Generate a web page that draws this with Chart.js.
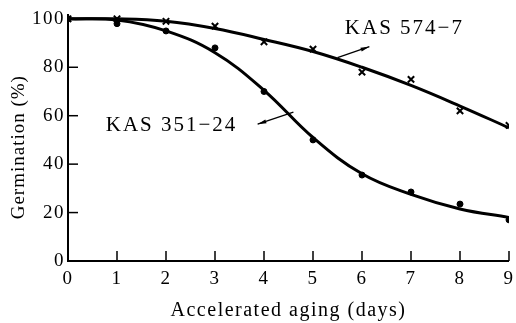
<!DOCTYPE html>
<html>
<head>
<meta charset="utf-8">
<script src="https://cdn.jsdelivr.net/npm/chart.js@4/dist/chart.umd.min.js"></script>
<style>
  html, body { margin: 0; padding: 0; background: #fff; }
  #wrap { width: 516px; height: 323px; }
</style>
</head>
<body>
<div id="wrap"><canvas id="agingChart" width="516" height="323"></canvas></div>
<script>
// values
const days = [0, 1, 2, 3, 4, 5, 6, 7, 8, 9];
const kas574Obs = [100, 100, 99, 97, 90.5, 87.5, 78, 75, 62, 56];
const kas574Fit = [100, 100, 99, 96, 91.5, 86.5, 80, 72.5, 64, 55];
const kas351Obs = [100, 98, 95, 88, 70, 50, 35.5, 28.5, 23.5, 17];
const kas351Fit = [100, 99.5, 95, 86, 70.5, 51, 36, 27.5, 21.5, 18];
const yTicks = [0, 20, 40, 60, 80, 100];

const serif = '"Liberation Serif", "Times New Roman", "DejaVu Serif", serif';

function pts(arr) {
    return days.map((d, i) => ({ x: d, y: arr[i] }));
}

// inner tick marks, arrows, curve labels and the y title
const decor = {
    id: 'decor',
    beforeDraw(chart) {
        chart.ctx.letterSpacing = '1.5px';
    },
    afterDraw(chart) {
        const ctx = chart.ctx;
        const xs = chart.scales.x, ys = chart.scales.y;
        const x0 = xs.getPixelForValue(0), y0 = ys.getPixelForValue(0);
        ctx.save();
        ctx.strokeStyle = '#000';
        ctx.fillStyle = '#000';
        ctx.lineWidth = 2;
        // axes
        ctx.beginPath();
        ctx.moveTo(x0, ys.top);
        ctx.lineTo(x0, y0);
        ctx.lineTo(xs.getPixelForValue(9), y0);
        ctx.stroke();
        // ticks pointing inward
        ctx.lineWidth = 1.5;
        yTicks.forEach(v => {
            if (v === 0) return;
            const y = ys.getPixelForValue(v);
            ctx.beginPath(); ctx.moveTo(x0, y); ctx.lineTo(x0 + 10, y); ctx.stroke();
        });
        days.forEach(d => {
            if (d === 0) return;
            const x = xs.getPixelForValue(d);
            ctx.beginPath(); ctx.moveTo(x, y0); ctx.lineTo(x, y0 - 10); ctx.stroke();
        });

        function arrow(fx, fy, tx, ty) {
            const ax = xs.getPixelForValue(fx), ay = ys.getPixelForValue(fy);
            const bx = xs.getPixelForValue(tx), by = ys.getPixelForValue(ty);
            ctx.lineWidth = 1.3;
            ctx.beginPath(); ctx.moveTo(ax, ay); ctx.lineTo(bx, by); ctx.stroke();
            const ang = Math.atan2(by - ay, bx - ax);
            ctx.beginPath();
            ctx.moveTo(bx, by);
            ctx.lineTo(bx - 9 * Math.cos(ang - 0.22), by - 9 * Math.sin(ang - 0.22));
            ctx.lineTo(bx - 9 * Math.cos(ang + 0.22), by - 9 * Math.sin(ang + 0.22));
            ctx.closePath();
            ctx.fill();
        }
        arrow(5.5, 84, 6.15, 88.5);
        arrow(4.6, 61.5, 3.87, 56.5);

        ctx.letterSpacing = '2px';
        ctx.font = '21px ' + serif;
        ctx.textBaseline = 'middle';
        ctx.textAlign = 'left';
        ctx.fillText('KAS 574\u22127', xs.getPixelForValue(5.65), ys.getPixelForValue(96));
        ctx.fillText('KAS 351\u221224', xs.getPixelForValue(0.77), ys.getPixelForValue(56));

        // y axis title
        ctx.font = '19px ' + serif;
        ctx.letterSpacing = '1px';
        ctx.textAlign = 'center';
        ctx.translate(19, ys.getPixelForValue(47));
        ctx.rotate(-Math.PI / 2);
        ctx.fillText('Germination (%)', 0, 0);
        ctx.restore();
    }
};

new Chart(document.getElementById('agingChart').getContext('2d'), {
    type: 'scatter',
    data: {
        datasets: [
            {
                label: 'KAS 574-7 fit', data: pts(kas574Fit), showLine: true,
                tension: 0.4, borderColor: '#000', borderWidth: 3,
                pointRadius: 0
            },
            {
                label: 'KAS 351-24 fit', data: pts(kas351Fit), showLine: true,
                tension: 0.4, borderColor: '#000', borderWidth: 3,
                pointRadius: 0
            },
            {
                label: 'KAS 574-7', data: pts(kas574Obs), pointStyle: 'crossRot',
                pointRadius: 4.5, borderColor: '#000', borderWidth: 2, backgroundColor: '#000'
            },
            {
                label: 'KAS 351-24', data: pts(kas351Obs), pointStyle: 'circle',
                pointRadius: 3, borderColor: '#000', borderWidth: 1, backgroundColor: '#000'
            }
        ]
    },
    options: {
        responsive: false,
        animation: false,
        layout: { padding: { top: 14, right: 7, left: 0, bottom: 0 } },
        plugins: { legend: { display: false }, tooltip: { enabled: false } },
        scales: {
            x: {
                type: 'linear', min: 0, max: 9,
                afterBuildTicks: s => { s.ticks = days.map(v => ({ value: v })); },
                afterFit: s => { s.height = 62; s.paddingLeft = 0; s.paddingRight = 0; },
                grid: { display: false, drawTicks: false },
                border: { display: false },
                ticks: { color: '#000', padding: 7, font: { family: serif, size: 19 } },
                title: {
                    display: true, text: 'Accelerated aging (days)', color: '#000',
                    padding: { top: 7, bottom: 0 }, font: { family: serif, size: 20 }
                }
            },
            y: {
                min: 0, max: 102,
                afterBuildTicks: s => { s.ticks = yTicks.map(v => ({ value: v })); },
                afterFit: s => { s.width = 68; s.paddingTop = 0; s.paddingBottom = 0; },
                grid: { display: false, drawTicks: false },
                border: { display: false },
                ticks: { color: '#000', padding: 3, font: { family: serif, size: 19 } },
                title: { display: false }
            }
        }
    },
    plugins: [decor]
});
</script>
</body>
</html>
